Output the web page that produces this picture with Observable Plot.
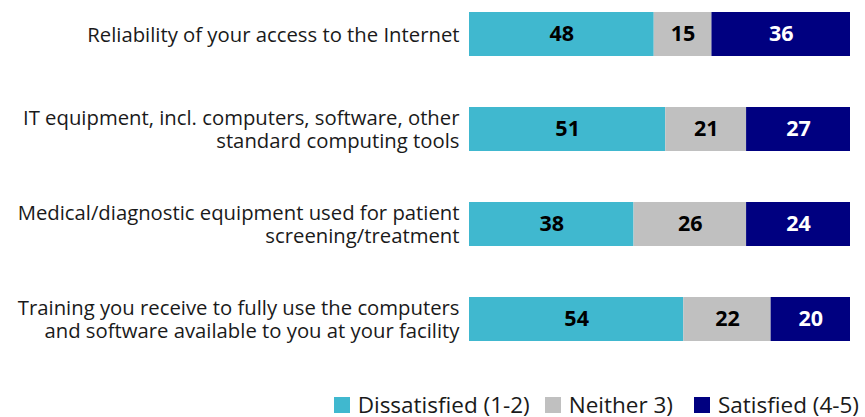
<!DOCTYPE html>
<html>
<head>
<meta charset="utf-8">
<script src="https://cdn.jsdelivr.net/npm/d3@7"></script>
<script src="https://cdn.jsdelivr.net/npm/@observablehq/plot@0.6"></script>
<style>
  body { margin: 0; background: #fff; font-family: "Open Sans", sans-serif; overflow: hidden; }
  #legend { display: flex; justify-content: flex-end; align-items: center; padding-right: 6px; height: 26px; line-height: 26px; font-size: 22.5px; color: #1a1a1a; white-space: nowrap; }
  #legend .item { display: flex; align-items: center; gap: 8px; }
  #legend .sw { width: 16px; height: 16px; display: inline-block; }
</style>
</head>
<body>
<div id="chart"></div>
<div id="legend"></div>
<script>
const items = [
  "Reliability of your access to the Internet",
  "IT equipment, incl. computers, software, other\nstandard computing tools",
  "Medical/diagnostic equipment used for patient\nscreening/treatment",
  "Training you receive to fully use the computers\nand software available to you at your facility"
];
const categories = ["Dissatisfied (1-2)", "Neither 3)", "Satisfied (4-5)"];
const colors = ["#40B8CF", "#C0C0C0", "#000080"];
const dissatisfied = [48, 51, 38, 54];
const neither = [15, 21, 26, 22];
const satisfied = [36, 27, 24, 20];

const series = [dissatisfied, neither, satisfied];
const data = [];
items.forEach((it, i) => {
  categories.forEach((c, j) => data.push({item: it, cat: c, value: series[j][i]}));
});

const chart = Plot.plot({
  width: 865,
  height: 392,
  marginLeft: 469,
  marginRight: 15,
  marginTop: 0,
  marginBottom: 0,
  style: {fontFamily: "'Open Sans', sans-serif"},
  x: {axis: null},
  y: {domain: items, paddingInner: 0.54, paddingOuter: 0, range: [10, 342], label: null, axis: null},
  color: {domain: categories, range: colors},
  marks: [
    Plot.barX(data, Plot.stackX({offset: "normalize", x: "value", y: "item", fill: "cat", order: categories})),
    Plot.text(data, Plot.stackX({offset: "normalize", x: "value", y: "item", z: "cat", order: categories,
      text: d => String(d.value),
      fill: d => d.cat === "Satisfied (4-5)" ? "white" : "black",
      fontSize: 21.5, fontWeight: "bold"})),
    Plot.axisY({domain: items, tickSize: 0, tickPadding: 10, fontSize: 20.3, label: null, lineHeight: 1.1, fill: "#1a1a1a"})
  ]
});
document.getElementById("chart").appendChild(chart);

const legend = document.getElementById("legend");
const gaps = [0, 15, 21];
categories.forEach((c, j) => {
  const el = document.createElement("span");
  el.className = "item";
  el.style.marginLeft = gaps[j] + "px";
  el.innerHTML = `<span class="sw" style="background:${colors[j]}"></span><span>${c}</span>`;
  legend.appendChild(el);
});
</script>
</body>
</html>
